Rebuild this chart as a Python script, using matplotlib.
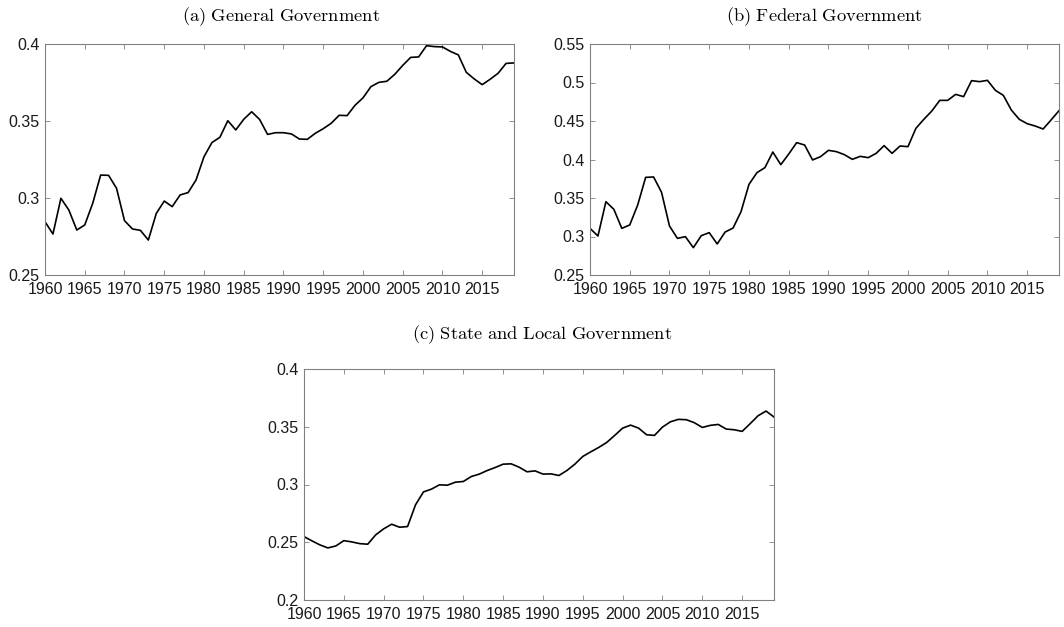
"""Government shares over time, three panels."""
import matplotlib

matplotlib.use("Agg")
import matplotlib.pyplot as plt

years = list(range(1960, 2020))

general_gov = [
    0.2846, 0.2766, 0.2998, 0.2922, 0.2792, 0.2825, 0.2965, 0.3149, 0.3147, 0.3063,
    0.2853, 0.2799, 0.2790, 0.2727, 0.2900, 0.2980, 0.2944, 0.3020, 0.3035, 0.3117,
    0.3268, 0.3360, 0.3394, 0.3502, 0.3442, 0.3511, 0.3560, 0.3510, 0.3413, 0.3424,
    0.3424, 0.3416, 0.3383, 0.3381, 0.3420, 0.3450, 0.3485, 0.3537, 0.3535, 0.3602,
    0.3650, 0.3723, 0.3751, 0.3758, 0.3803, 0.3861, 0.3913, 0.3916, 0.3989, 0.3983,
    0.3981, 0.3952, 0.3929, 0.3816, 0.3773, 0.3736, 0.3771, 0.3810, 0.3874, 0.3877,
]

federal_gov = [
    0.3106, 0.3006, 0.3452, 0.3353, 0.3106, 0.3150, 0.3409, 0.3768, 0.3773, 0.3574,
    0.3136, 0.2976, 0.2998, 0.2855, 0.3011, 0.3050, 0.2903, 0.3058, 0.3110, 0.3323,
    0.3677, 0.3829, 0.3894, 0.4097, 0.3933, 0.4071, 0.4219, 0.4188, 0.3994, 0.4037,
    0.4119, 0.4102, 0.4063, 0.4002, 0.4041, 0.4024, 0.4080, 0.4180, 0.4080, 0.4175,
    0.4167, 0.4405, 0.4522, 0.4630, 0.4768, 0.4768, 0.4846, 0.4816, 0.5024, 0.5011,
    0.5028, 0.4898, 0.4833, 0.4643, 0.4522, 0.4465, 0.4435, 0.4396, 0.4513, 0.4634,
]

state_local_gov = [
    0.2549, 0.2512, 0.2477, 0.2451, 0.2468, 0.2514, 0.2503, 0.2488, 0.2483, 0.2564,
    0.2616, 0.2656, 0.2630, 0.2636, 0.2824, 0.2936, 0.2960, 0.2997, 0.2994, 0.3020,
    0.3026, 0.3069, 0.3090, 0.3121, 0.3147, 0.3176, 0.3179, 0.3150, 0.3110, 0.3118,
    0.3090, 0.3092, 0.3078, 0.3121, 0.3176, 0.3243, 0.3283, 0.3321, 0.3364, 0.3425,
    0.3488, 0.3514, 0.3488, 0.3431, 0.3425, 0.3497, 0.3543, 0.3564, 0.3561, 0.3535,
    0.3494, 0.3512, 0.3520, 0.3480, 0.3474, 0.3460, 0.3526, 0.3595, 0.3636, 0.3584,
]

x_ticks = list(range(1960, 2020, 5))

plt.rcParams["font.family"] = ["Liberation Sans", "DejaVu Sans"]
plt.rcParams["mathtext.fontset"] = "cm"

W, H = 1064, 627
fig = plt.figure(figsize=(W / 100, H / 100), dpi=100)


def make_axes(left, top, right, bottom):
    return fig.add_axes([left / W, 1 - bottom / H, (right - left) / W, (bottom - top) / H])


panels = [
    (make_axes(45, 44, 514, 275), general_gov, (0.25, 0.4), [0.25, 0.3, 0.35, 0.4],
     r"$\mathrm{(a)\ General\ Government}$", (281, 17)),
    (make_axes(590, 44, 1059, 275), federal_gov, (0.25, 0.55),
     [0.25, 0.3, 0.35, 0.4, 0.45, 0.5, 0.55],
     r"$\mathrm{(b)\ Federal\ Government}$", (824, 17)),
    (make_axes(304, 369, 774, 600), state_local_gov, (0.2, 0.4), [0.2, 0.25, 0.3, 0.35, 0.4],
     r"$\mathrm{(c)\ State\ and\ Local\ Government}$", (542, 335)),
]

for ax, values, ylim, yticks, title, (tx, ty) in panels:
    ax.plot(years, values, color="black", linewidth=1.2)
    ax.set_xlim(1960, 2019)
    ax.set_ylim(*ylim)
    ax.set_xticks(x_ticks)
    ax.set_yticks(yticks)
    ax.set_yticklabels([f"{v:g}" for v in yticks])
    ax.tick_params(direction="in", length=3.5, width=0.6, color="#808080",
                   top=True, right=True, labelsize=11.5, labelcolor="#1a1a1a")
    ax.tick_params(axis="x", pad=5)
    ax.tick_params(axis="y", pad=4)
    for spine in ax.spines.values():
        spine.set_color("#808080")
        spine.set_linewidth(0.8)
    fig.text(tx / W, 1 - ty / H, title, ha="center", va="center", fontsize=13.3)

fig.savefig("out.png", dpi=100)
